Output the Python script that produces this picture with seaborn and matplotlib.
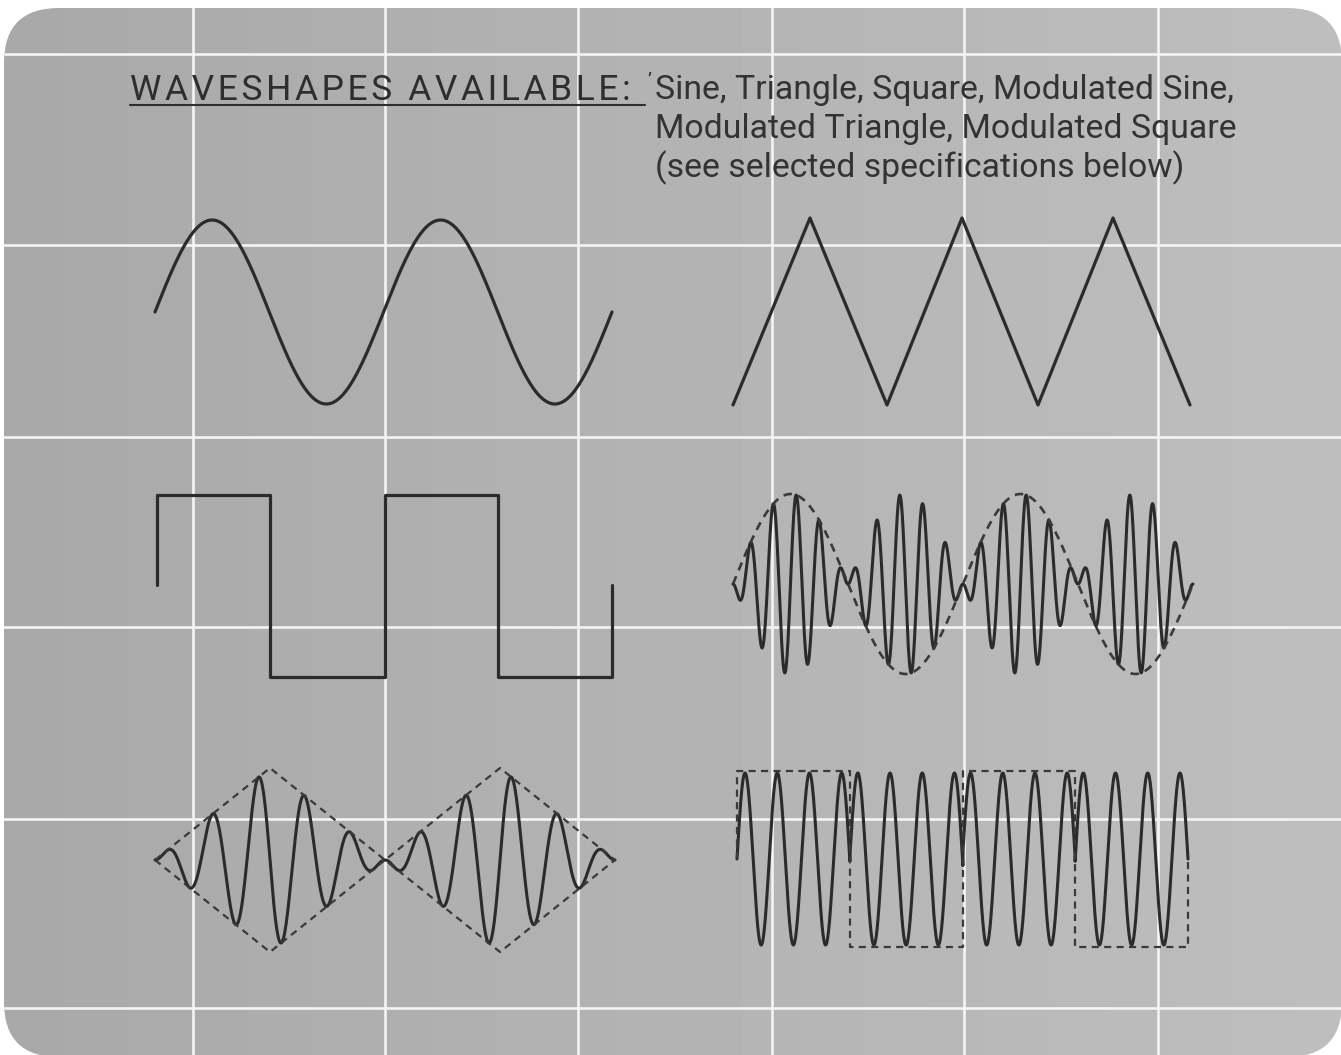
import numpy as np
import matplotlib.pyplot as plt
import seaborn as sns
from matplotlib.patches import FancyBboxPatch

# ------------------------------------------------------------------
# values, in pixel units of the picture (y grows down)
# ------------------------------------------------------------------
grid_x = [193, 385, 578, 772, 964, 1158]
grid_y = [54, 245, 437, 627, 819, 1008]

# sine: start/end, centre line, amplitude, period
sine_span = [155, 612]
sine_centre = 312
sine_amp = 92
sine_period = 228.5

# triangle vertices
tri_x = [733, 810, 887, 962, 1038, 1113, 1190]
tri_y = [405, 218, 405, 218, 405, 218, 405]

# square vertices
square_x = [157, 157, 270, 270, 385, 385, 498, 498, 612, 612]
square_y = [585, 495, 495, 677, 677, 495, 495, 677, 677, 585]

# modulated sine: envelope start/end (two envelope cycles), centre, amplitude,
# carrier cycles per envelope cycle
modsine_span = [733, 1193]
modsine_centre = 584
modsine_amp = 90
modsine_ratio = 10

# modulated triangle: envelope corners, centre, amplitude, carrier period
modtri_nodes = [155, 270, 385, 500, 615]
modtri_level = [0, 1, 0, -1, 0]
modtri_centre = 860
modtri_amp = 92
modtri_period = 46

# modulated square: segment edges, sign of each segment, centre, amplitude,
# carrier cycles per segment
modsq_edges = [737, 850, 963, 1075, 1188]
modsq_sign = [1, -1, 1, -1]
modsq_centre = 859
modsq_amp = 86
modsq_env_amp = 88
modsq_cycles = 3.5

title = "WAVESHAPES AVAILABLE:"
desc_lines = ["Sine, Triangle, Square, Modulated Sine,",
              "Modulated Triangle, Modulated Square",
              "(see selected specifications below)"]

# ------------------------------------------------------------------
sns.set_style("white")
plt.rcParams['font.family'] = ['Roboto', 'DejaVu Sans']

W, H = 1341, 1055
INK = '#2b2b2b'
fig = plt.figure(figsize=(W / 100, H / 100), dpi=100, facecolor='white')
ax = fig.add_axes([0, 0, 1, 1])
ax.axis('off')

# grey card with rounded corners
card = FancyBboxPatch((4, 8), W + 1 - 4, H + 2 - 8, boxstyle="round,pad=0,rounding_size=55",
                      facecolor='none', edgecolor='none')
ax.add_patch(card)
shade = np.tile(np.linspace(0.66, 0.745, 300), (50, 1))
bg = ax.imshow(shade, extent=[0, W, H, 0], cmap='gray', vmin=0, vmax=1,
               interpolation='bilinear', zorder=0)
bg.set_clip_path(card)

# white graticule
for gx in grid_x:
    ln = ax.axvline(gx, color='#f4f4f4', lw=1.9, zorder=1)
    ln.set_clip_path(card)
for gy in grid_y:
    ln = ax.axhline(gy, color='#f4f4f4', lw=1.9, zorder=1)
    ln.set_clip_path(card)


def trace(x, y, lw=2.1, dashed=False):
    kw = dict(color=INK if not dashed else '#3a3a3a', lw=lw, sort=False,
              estimator=None, ax=ax, zorder=3, legend=False)
    if dashed:
        kw['linestyle'] = (0, (3.2, 2.4))
    sns.lineplot(x=x, y=y, **kw)


# sine
xs = np.linspace(sine_span[0], sine_span[1], 1500)
trace(xs, sine_centre - sine_amp * np.sin(2 * np.pi * (xs - sine_span[0]) / sine_period), lw=2.3)

# triangle and square
trace(np.array(tri_x), np.array(tri_y), lw=2.3)
trace(np.array(square_x), np.array(square_y), lw=2.3)

# modulated sine (carrier multiplied by the sine envelope)
xm = np.linspace(modsine_span[0], modsine_span[1], 4000)
th = 4 * np.pi * (xm - modsine_span[0]) / (modsine_span[1] - modsine_span[0])
env = np.sin(th)
trace(xm, modsine_centre + modsine_amp * env * np.sin(modsine_ratio * th), lw=2.2)
trace(xm, modsine_centre - modsine_amp * env, lw=1.9, dashed=True)

# modulated triangle
xt = np.linspace(modtri_nodes[0], modtri_nodes[-1], 4000)
tenv = np.interp(xt, modtri_nodes, modtri_level)
trace(xt, modtri_centre - modtri_amp * tenv *
      np.sin(2 * np.pi * (xt - modtri_nodes[2]) / modtri_period), lw=2.2)
lvl = np.abs(np.array(modtri_level))
trace(np.array(modtri_nodes), modtri_centre - modtri_amp * lvl, lw=1.6, dashed=True)
trace(np.array(modtri_nodes), modtri_centre + modtri_amp * lvl, lw=1.6, dashed=True)

# modulated square (phase reversal at every segment edge)
xq = np.linspace(modsq_edges[0], modsq_edges[-1], 4000)
seg = np.clip(np.searchsorted(modsq_edges, xq, side='right') - 1, 0, len(modsq_sign) - 1)
sgn = np.array(modsq_sign)[seg]
seg_len = (modsq_edges[-1] - modsq_edges[0]) / len(modsq_sign)
phase = 2 * np.pi * modsq_cycles * (xq - modsq_edges[0]) / seg_len
trace(xq, modsq_centre - modsq_amp * sgn * np.sin(phase), lw=2.2)
ex, ey = [modsq_edges[0]], [modsq_centre]
for i, s in enumerate(modsq_sign):
    ex += [modsq_edges[i], modsq_edges[i + 1]]
    ey += [modsq_centre - modsq_env_amp * s] * 2
ex.append(modsq_edges[-1])
ey.append(modsq_centre)
trace(np.array(ex), np.array(ey), lw=1.6, dashed=True)

# heading
spaced = "\u2009 ".join("\u200a".join(w) for w in title.split(" "))
ax.text(130, 100, spaced, fontsize=25.5, color='#2e2e2e', va='baseline', ha='left', zorder=4)
ax.plot([130, 645], [105, 105], color='#2e2e2e', lw=1.5, zorder=4)
ax.text(648, 86, "\u2019", fontsize=14, color='#2e2e2e', va='baseline', zorder=4)
for i, line in enumerate(desc_lines):
    ax.text(655, 99 + 39 * i, line, fontsize=24.3, color='#333333', va='baseline',
            ha='left', zorder=4)

ax.set_xlim(0, W)
ax.set_ylim(H, 0)
ax.set_aspect('auto')
fig.savefig('out.png', dpi=100, facecolor='white')
